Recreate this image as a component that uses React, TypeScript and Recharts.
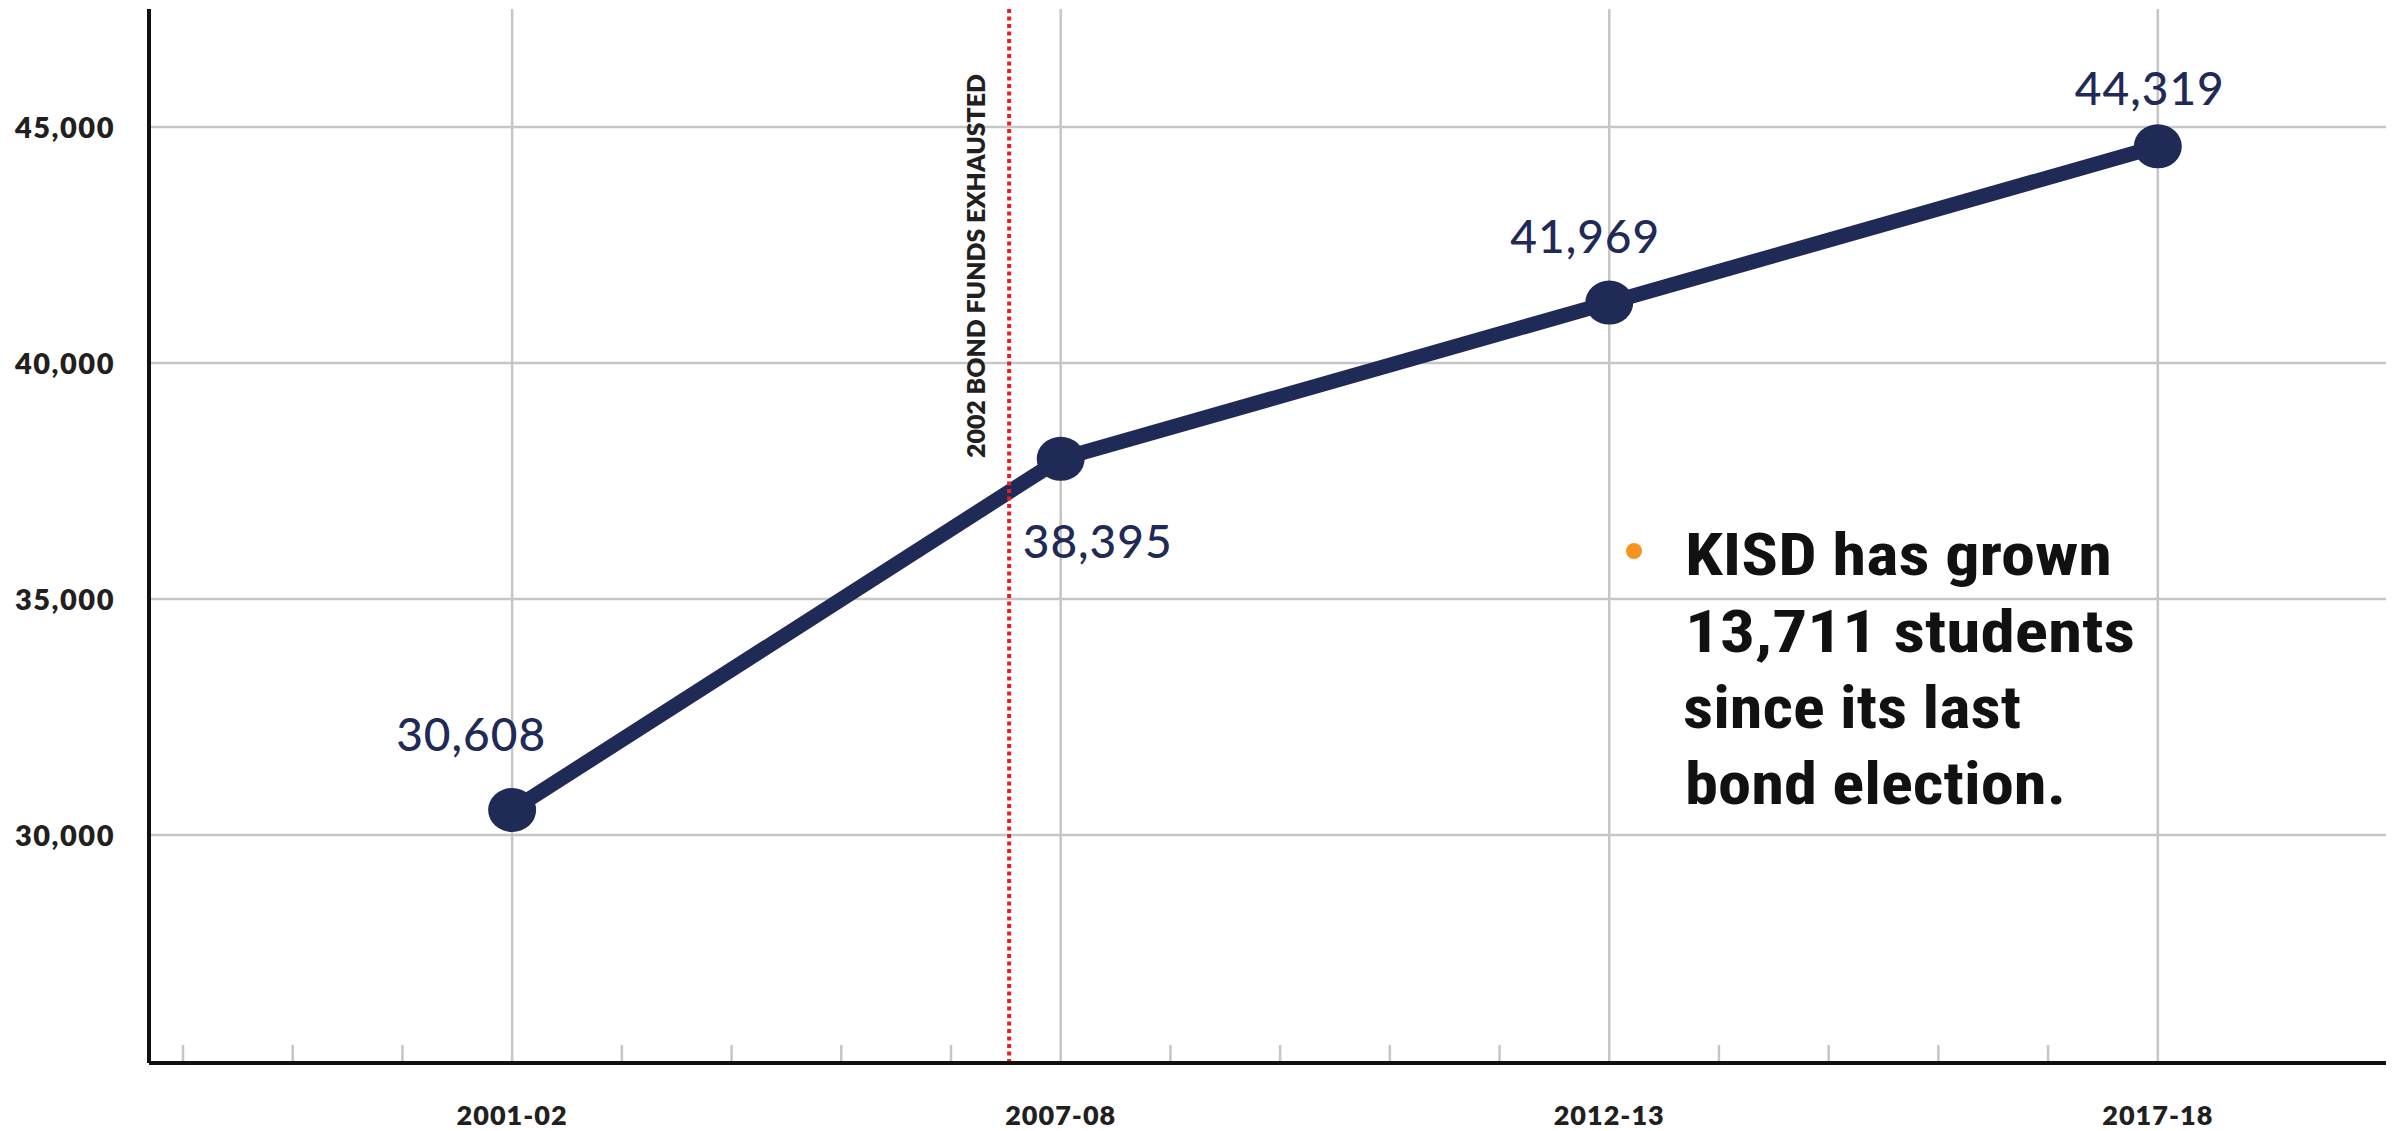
import React from 'react';
import { LineChart, Line, XAxis, YAxis, CartesianGrid, ReferenceLine, LabelList } from 'recharts';

// ---------- data ----------
const schoolYears = ['2001-02', '2007-08', '2012-13', '2017-18'];
const axisSlots = [0, 5, 10, 15];
const plottedEnrollment = [30530, 37970, 41280, 44590];
const reportedEnrollment = [30608, 38395, 41969, 44319];
const yTicks = [30000, 35000, 40000, 45000];
const allSlots = [-3, -2, -1, 0, 1, 2, 3, 4, 5, 6, 7, 8, 9, 10, 11, 12, 13, 14, 15];
const bondExhaustedSlot = 4.53;
const bondExhaustedLabel = '2002 BOND FUNDS EXHAUSTED';
const noteLines = ['KISD has grown', '13,711 students', 'since its last', 'bond election.'];

// ---------- style ----------
const W = 2397;
const H = 1131;
const NAVY = '#1f2a56';
const GRID = '#c6c6c6';
const INK = '#231f20';
const RED = '#ed1c24';
const ORANGE = '#f7941d';
const FONT = 'Lato, "Open Sans", sans-serif';
const NOTE_FONT = '"Liberation Sans Narrow", "Roboto Condensed", "DejaVu Sans Condensed", "Liberation Sans", sans-serif';

const LABEL_OFFSETS = [
  { dx: -41, dy: -59 },
  { dx: 37, dy: 99 },
  { dx: -24, dy: -50 },
  { dx: -8, dy: -41 },
];
const NOTE_LAYOUT = [
  { x: 1685, y: 575, w: 427 },
  { x: 1685, y: 652, w: 450 },
  { x: 1683, y: 728, w: 338 },
  { x: 1685, y: 804, w: 381 },
];

const data = schoolYears.map((year, i) => ({
  slot: axisSlots[i],
  year,
  enrollment: plottedEnrollment[i],
  reported: reportedEnrollment[i],
}));

const fmt = (v: number) => v.toLocaleString('en-US');

const YTick = (props: any) => {
  const { x, y, payload } = props;
  return (
    <text x={x - 34} y={y + 10.5} textAnchor="end" fill={INK} fontFamily={FONT} fontWeight={800} fontSize={29} letterSpacing={1.5}>
      {fmt(payload.value)}
    </text>
  );
};

const XTick = (props: any) => {
  const { x, y, payload } = props;
  const idx = axisSlots.indexOf(payload.value);
  if (idx < 0) {
    return <line x1={x} x2={x} y1={y - 18} y2={y - 2} stroke={GRID} strokeWidth={2.5} />;
  }
  return (
    <text x={x} y={y + 62} textAnchor="middle" fill={INK} fontFamily={FONT} fontWeight={800} fontSize={27} letterSpacing={1}>
      {schoolYears[idx]}
    </text>
  );
};

const Dot = (props: any) => {
  const { cx, cy, index } = props;
  if (cx == null || cy == null) return null;
  return <ellipse key={`dot-${index}`} cx={cx} cy={cy} rx={24} ry={22} fill={NAVY} />;
};

const ValueLabel = (props: any) => {
  const { x, y, index, value } = props;
  const off = LABEL_OFFSETS[index] || { dx: 0, dy: -40 };
  return (
    <text x={x + off.dx} y={y + off.dy} textAnchor="middle" fill={NAVY} fontFamily={FONT} fontWeight={500} fontSize={46} letterSpacing={1}>
      {fmt(value)}
    </text>
  );
};

const BondLabel = (props: any) => {
  const vb = props.viewBox || {};
  const x = (vb.x ?? 0) - 24;
  const y = (vb.y ?? 0) + 257;
  return (
    <text
      x={x}
      y={y}
      transform={`rotate(-90 ${x} ${y})`}
      textAnchor="middle"
      fill={INK}
      fontFamily={FONT}
      fontWeight={800}
      fontSize={24}
      textLength={384}
      lengthAdjust="spacingAndGlyphs"
    >
      {bondExhaustedLabel}
    </text>
  );
};

export default function App() {
  return (
    <div style={{ position: 'absolute', left: 0, top: 0, width: W, height: H, background: '#fff' }}>
      <LineChart width={W} height={H} data={data} margin={{ top: 9, right: 11, bottom: 0, left: 0 }}>
        <CartesianGrid stroke={GRID} strokeWidth={2.5} verticalValues={axisSlots} horizontalValues={yTicks} />
        <XAxis
          dataKey="slot"
          type="number"
          domain={[-3.31, 17.08]}
          allowDataOverflow
          ticks={allSlots}
          interval={0}
          height={68}
          axisLine={{ stroke: '#111', strokeWidth: 4 }}
          tickLine={false}
          tickSize={0}
          tickMargin={0}
          tick={<XTick />}
        />
        <YAxis
          type="number"
          domain={[25170, 47500]}
          allowDataOverflow
          ticks={yTicks}
          interval={0}
          width={149}
          axisLine={{ stroke: '#111', strokeWidth: 4 }}
          tickLine={false}
          tickSize={0}
          tickMargin={0}
          tick={<YTick />}
        />
        <Line
          type="linear"
          dataKey="enrollment"
          stroke={NAVY}
          strokeWidth={15}
          dot={<Dot />}
          activeDot={false}
          isAnimationActive={false}
        >
          <LabelList dataKey="reported" content={<ValueLabel />} />
        </Line>
        <ReferenceLine
          x={bondExhaustedSlot}
          stroke={RED}
          strokeWidth={4}
          strokeDasharray="4 3.5"
          label={<BondLabel />}
        />
      </LineChart>
      <svg width={W} height={H} style={{ position: 'absolute', left: 0, top: 0, pointerEvents: 'none' }}>
        <circle cx={1634} cy={551} r={8} fill={ORANGE} />
        {noteLines.map((line, i) => (
          <text
            key={line}
            x={NOTE_LAYOUT[i].x}
            y={NOTE_LAYOUT[i].y}
            fill="#111"
            fontFamily={NOTE_FONT}
            fontWeight={700}
            fontSize={60}
            textLength={NOTE_LAYOUT[i].w}
            lengthAdjust="spacingAndGlyphs"
          >
            {line}
          </text>
        ))}
      </svg>
    </div>
  );
}
